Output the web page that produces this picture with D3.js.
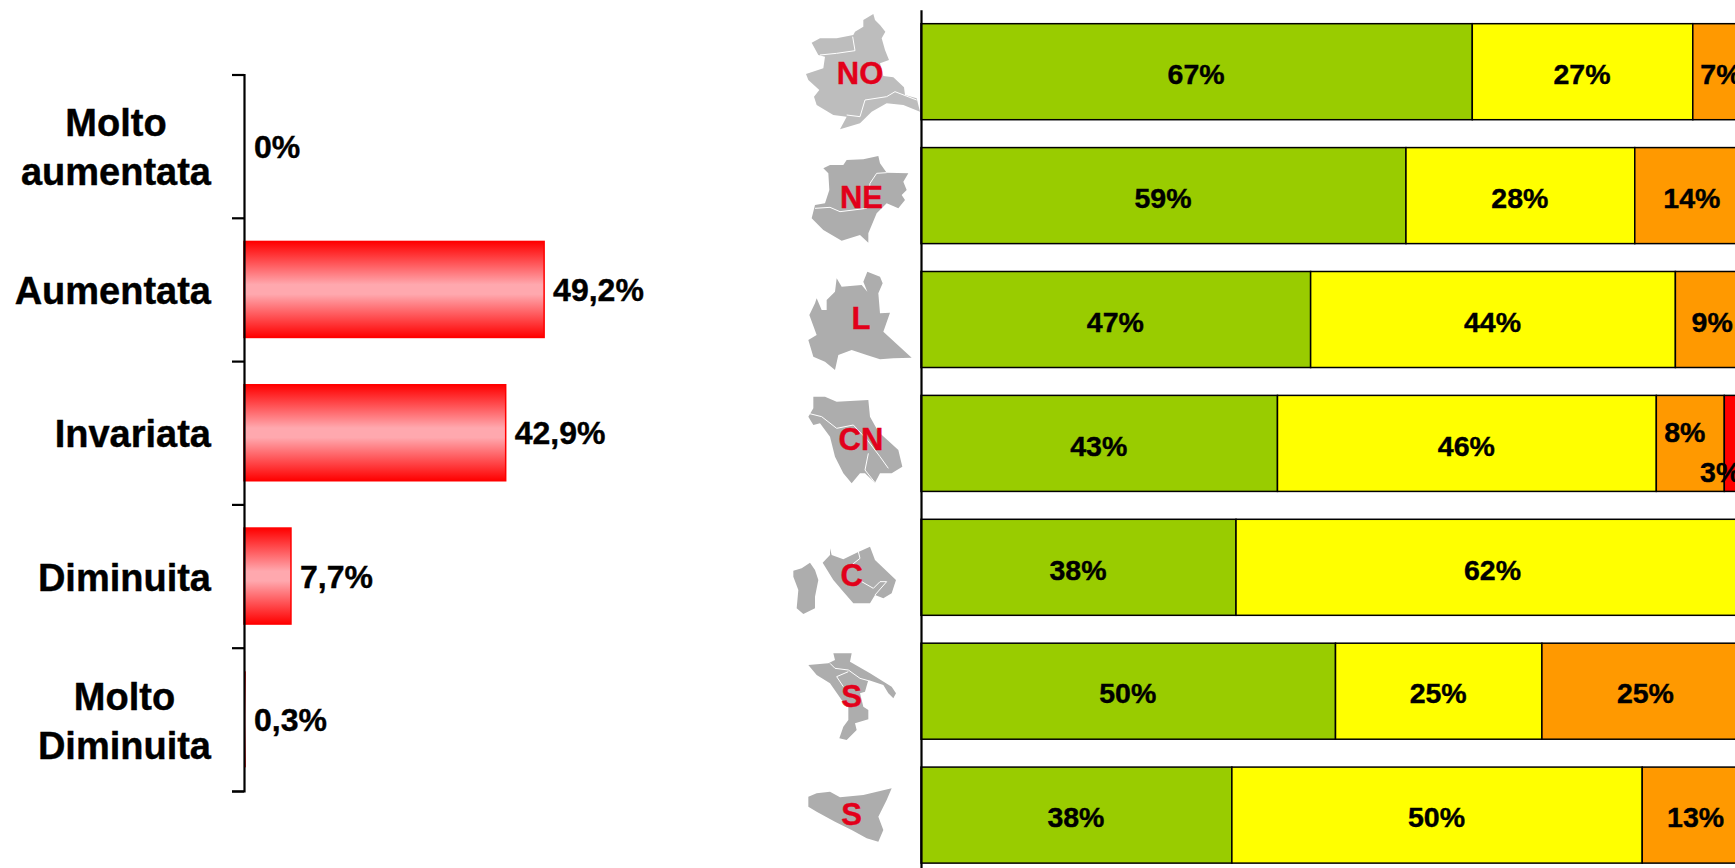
<!DOCTYPE html>
<html><head><meta charset="utf-8">
<style>html,body{margin:0;padding:0;background:#fff;overflow:hidden}svg{display:block;font-family:"Liberation Sans",Arial,sans-serif;font-weight:700}</style>
<script src="https://cdn.jsdelivr.net/npm/d3@7/dist/d3.min.js"></script>
</head><body><svg id="c" width="1735" height="868"></svg>
<script>
// Left chart
const trendCategories = [["Molto","aumentata"],["Aumentata"],["Invariata"],["Diminuita"],["Molto","Diminuita"]];
const trendValues = [0, 49.2, 42.9, 7.7, 0.3];
const trendLabels = ["0%","49,2%","42,9%","7,7%","0,3%"];
// Right chart
const areas = ["NO","NE","L","CN","C","S","S2"];
const areaNames = ["NO","NE","L","CN","C","S","S"];
const greenValues  = [66.5, 58.5, 47, 43, 38, 50, 37.5];
const yellowValues = [26.6, 27.6, 44, 45.7, 62, 24.9, 49.5];
const orangeValues = [6.9, 13.9, 9, 8.2, 0, 25.1, 13];
const redValues    = [0, 0, 0, 3.1, 0, 0, 0];
const segmentColors = ["#99CC00","#FFFF00","#FF9900","#FF0000"];

const svg = d3.select("#c");
const defs = svg.append("defs");
const grad = defs.append("linearGradient").attr("id","barGrad").attr("x1",0).attr("y1",0).attr("x2",0).attr("y2",1);
[[0,"#ff0000"],[0.45,"#ffa8ae"],[0.55,"#ffa8ae"],[1,"#ff0000"]].forEach(s=>grad.append("stop").attr("offset",s[0]).attr("stop-color",s[1]));

// ---- left chart
const AX = 244, TOP = 74.5, BOT = 791;
const lx = d3.scaleLinear().domain([0,100]).range([AX, AX+610]);
const ly = d3.scaleBand().domain(d3.range(trendValues.length)).range([TOP,BOT]).paddingInner(0.33).paddingOuter(0.165);
const lt = d3.scaleLinear().domain([0,5]).range([TOP,BOT]);
const left = svg.append("g");
left.selectAll("rect").data(trendValues).join("rect")
  .attr("x",AX).attr("y",(d,i)=>ly(i)).attr("width",d=>lx(d)-AX).attr("height",ly.bandwidth())
  .attr("fill","url(#barGrad)").attr("stroke",d=>d>=1?"#ff0000":"none").attr("stroke-width",1.5);
const lAxis = left.append("g").attr("transform",`translate(${AX},0)`)
  .call(d3.axisLeft(lt).ticks(5).tickSize(12).tickFormat(""));
lAxis.selectAll("path,line").attr("stroke","#000").attr("stroke-width",2.2);
left.selectAll("text.v").data(trendValues).join("text").attr("class","v")
  .attr("x",d=>(d<1?AX+10:lx(d)+9)).attr("y",(d,i)=>ly(i)+ly.bandwidth()/2).attr("dy","0.36em")
  .attr("font-size",32).attr("stroke","#000").attr("stroke-width",0.4).text((d,i)=>trendLabels[i]);
const RIGHT_EDGE = 211;
trendCategories.forEach((lines,i)=>{
  const cy = ly(i)+ly.bandwidth()/2+1;
  const g = left.append("g");
  const ts = lines.map((l,k)=>g.append("text").attr("font-size",38).attr("text-anchor","middle")
    .attr("stroke","#000").attr("stroke-width",0.4)
    .attr("y",cy+(k-(lines.length-1)/2)*49).attr("dy","0.36em").text(l));
  const w = d3.max(ts,t=>t.node().getComputedTextLength());
  g.attr("transform",`translate(${RIGHT_EDGE-w/2},0)`);
});

// ---- right chart (100% lies beyond the right edge of the picture)
const RX = 921, RTOP = 9.75, RSTEP = 123.9;
const rx = d3.scaleLinear().domain([0,100]).range([RX, RX+829]);
const ry = d3.scaleBand().domain(areas).range([RTOP, RTOP+RSTEP*7]).paddingInner(0.225).paddingOuter(0.1125);
const rows = areas.map((a,i)=>{
  let acc=0;
  return [greenValues[i],yellowValues[i],orangeValues[i],redValues[i]].map((v,k)=>{
    const s={area:a,k,v,x0:acc,x1:acc+v}; acc+=v; return s;}).filter(s=>s.v>0);
}).flat();
const right = svg.append("g");
right.selectAll("rect").data(rows).join("rect")
  .attr("x",d=>rx(d.x0)).attr("width",d=>rx(d.x1)-rx(d.x0))
  .attr("y",d=>ry(d.area)).attr("height",ry.bandwidth())
  .attr("fill",d=>segmentColors[d.k]).attr("stroke","#000").attr("stroke-width",1.5);
const rAxis = right.append("g").attr("transform",`translate(${RX},0)`)
  .call(d3.axisLeft(ry).tickSize(0).tickFormat(""));
rAxis.selectAll("path").attr("stroke","#000").attr("stroke-width",2.2);
rAxis.selectAll(".tick").remove();
const fmt = d3.format(".0f");
// two crowded labels in the CN row are dodged as in the source
const dodge = d => d.area==="CN" && d.k===2 ? [-5,-14] : d.area==="CN" && d.k===3 ? [-16,26] : [0,0];
right.selectAll("text.s").data(rows).join("text").attr("class","s")
  .attr("text-anchor","middle").attr("font-size",28.5).attr("dy","0.36em")
  .attr("stroke","#000").attr("stroke-width",0.4)
  .attr("x",d=>rx((d.x0+d.x1)/2)+dodge(d)[0]-0.5)
  .attr("y",d=>ry(d.area)+ry.bandwidth()/2+dodge(d)[1]+2)
  .text(d=>fmt(d.v)+"%");

// ---- decorative region silhouettes (traced pictograms, crop-space coordinates)
const regionShapes = [
 {ox:780,oy:0,fill:"#bdbdbd",
  outline:[[[280,42],[285,60],[300,75],[316,95],[305,115],[315,150],[327,180],[300,190],[310,228],[340,232],[372,262],[375,285],[410,295],[420,335],[370,315],[320,310],[275,335],[240,370],[180,388],[195,360],[200,350],[160,345],[110,315],[102,290],[118,270],[85,240],[78,222],[130,205],[135,170],[115,165],[95,128],[120,115],[170,115],[220,105],[225,95],[250,80],[250,60]]],
  borders:[[[120,165],[170,160],[225,152],[218,110]],[[200,345],[240,350],[255,300],[320,290],[345,275],[410,300]]]},
 {ox:780,oy:0,fill:"#adadad",
  outline:[[[295,468],[300,490],[320,518],[385,520],[370,545],[380,570],[365,585],[375,600],[355,625],[320,610],[290,640],[265,700],[265,728],[240,705],[185,722],[130,690],[95,655],[105,615],[135,610],[148,570],[145,520],[130,505],[150,495],[190,495],[200,480],[250,478]]],
  borders:[[[105,625],[150,622],[180,635],[260,625],[270,550],[290,520],[320,518]]]},
 {ox:780,oy:260,fill:"#adadad",
  outline:[[[262,35],[300,50],[308,70],[295,100],[300,160],[330,158],[310,215],[395,293],[340,295],[300,298],[260,285],[215,270],[175,285],[165,330],[135,305],[100,290],[85,240],[110,225],[88,165],[105,130],[110,115],[125,150],[140,150],[140,120],[165,95],[170,55],[185,80],[245,75],[262,95],[250,65]]],
  borders:[]},
 {ox:780,oy:260,fill:"#adadad",
  outline:[[[100,410],[135,410],[170,425],[265,420],[270,470],[295,515],[355,570],[367,620],[335,640],[300,640],[285,668],[255,640],[240,640],[215,670],[190,640],[165,590],[150,530],[120,490],[100,495],[85,470],[100,445]]],
  borders:[[[85,460],[125,470],[170,505],[220,495],[262,540],[300,590],[325,625]],[[265,580],[255,630],[285,668]]]},
 {ox:780,oy:520,fill:"#adadad",
  outline:[[[40,152],[65,145],[90,128],[105,150],[115,180],[105,230],[105,265],[70,282],[50,265],[55,210],[40,170]],
           [[150,85],[155,105],[190,118],[230,98],[270,80],[285,120],[322,155],[348,180],[335,220],[310,235],[285,225],[270,250],[220,250],[190,215],[160,180],[128,128],[150,105]]],
  borders:[[[235,95],[240,115],[215,135]],[[245,185],[280,205],[300,185],[320,185],[285,225]]]},
 {ox:780,oy:560,fill:"#adadad",
  outline:[[[160,280],[215,280],[210,305],[270,340],[335,380],[348,400],[340,415],[325,400],[310,375],[265,360],[255,395],[240,400],[250,440],[265,450],[265,478],[225,490],[230,510],[200,540],[178,535],[190,500],[205,480],[205,440],[185,420],[150,370],[110,345],[85,315],[145,310],[165,300]]],
  borders:[[[150,310],[165,325],[205,330],[240,355],[265,362]],[[170,350],[190,380]],[[170,350],[205,335]]]},
 {ox:780,oy:560,fill:"#adadad",
  outline:[[[85,710],[110,700],[150,695],[180,712],[250,705],[335,685],[320,720],[295,770],[310,810],[295,845],[260,835],[215,810],[165,785],[110,755],[85,740]]],
  borders:[]}
];
const areaLabelX = [860,861.5,861,861,851.7,851.7,851.7];
const areaLabelBase = [84,208,329,450,586,706.7,825];
const mapG = svg.append("g");
const open = d3.line();
regionShapes.forEach((r,i)=>{
  const g = mapG.append("g").attr("transform",`translate(${r.ox},${r.oy}) scale(${1/3})`);
  r.outline.forEach(o=>g.append("path").attr("d",open(o)+"Z").attr("fill",r.fill));
  r.borders.forEach(b=>g.append("path").attr("d",open(b)).attr("fill","none").attr("stroke","#fff").attr("stroke-width",3));
  mapG.append("text").attr("x",areaLabelX[i]).attr("y",areaLabelBase[i]).attr("text-anchor","middle")
    .attr("font-size",31).attr("fill","#E2001A").attr("stroke","#E2001A").attr("stroke-width",0.4).text(areaNames[i]);
});
</script></body></html>
